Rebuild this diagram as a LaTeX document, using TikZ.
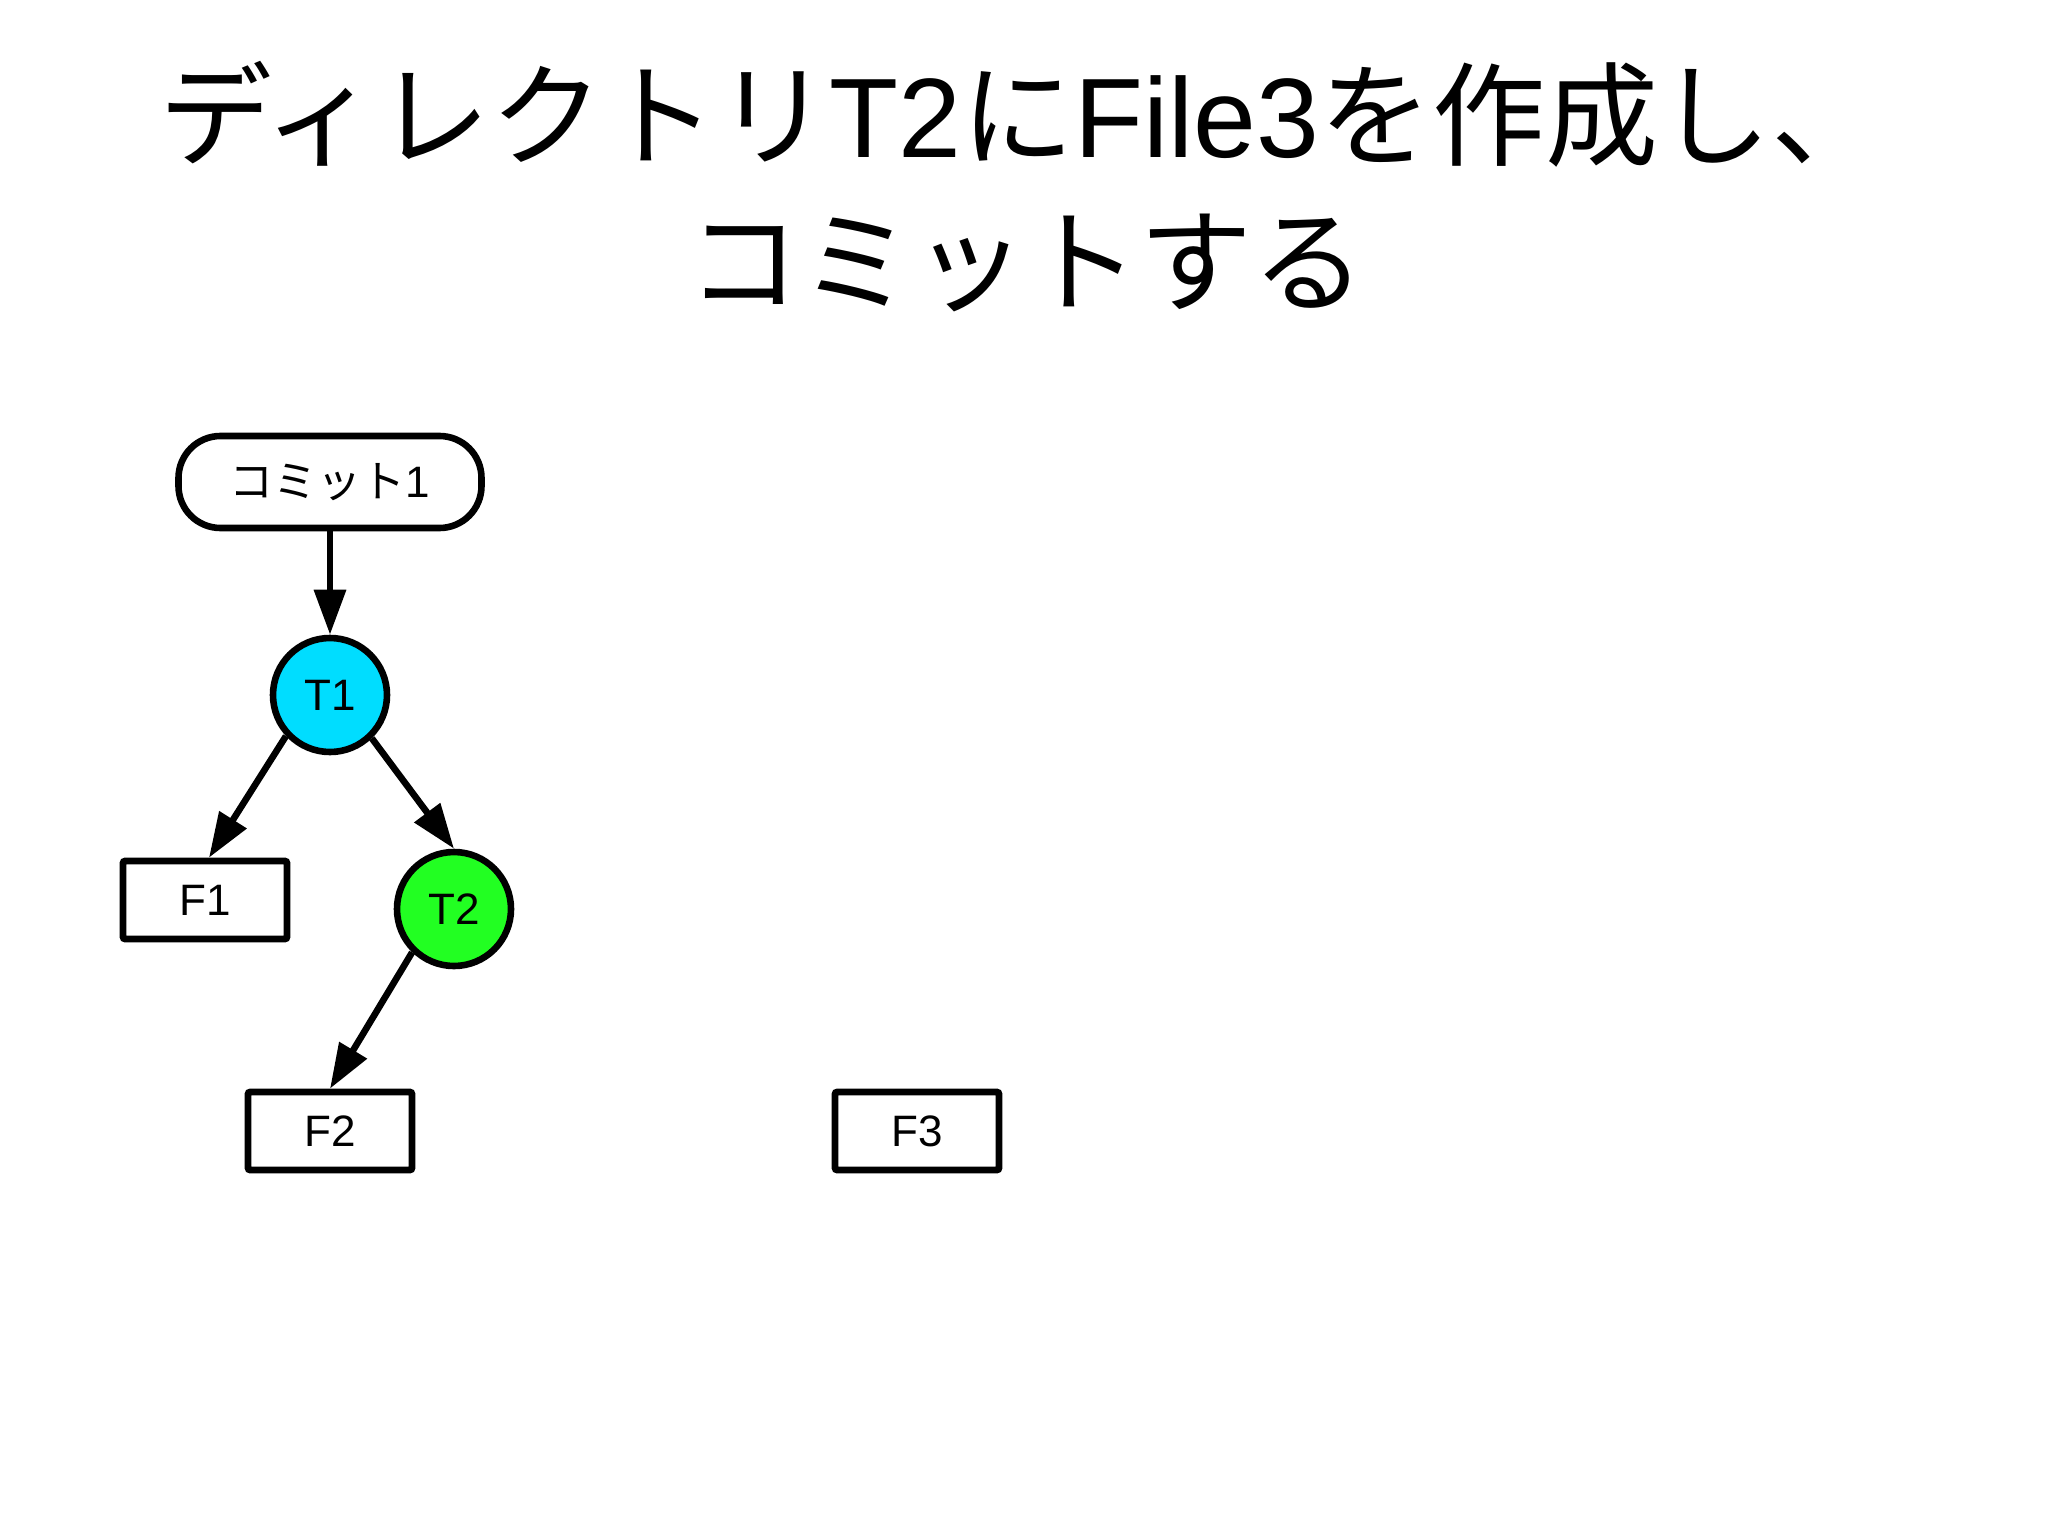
\documentclass[tikz,border=0pt]{standalone}
\usepackage{fontspec}
\setmainfont{Liberation Sans}
\newfontfamily\jp{Noto Sans CJK JP}
\usetikzlibrary{arrows.meta}
\definecolor{tcyan}{HTML}{00DDFF}
\definecolor{tgreen}{HTML}{22FF22}
\tikzset{
  lbl/.style={font=\fontsize{22}{26}\selectfont, text=black},
  commitbox/.style={lbl, draw, line width=3.3pt, rounded corners=21pt, minimum width=151.5pt, minimum height=46pt, inner sep=0pt, fill=white},
  treenode/.style={lbl, draw, line width=3.3pt, circle, minimum size=57pt, inner sep=0pt},
  filebox/.style={lbl, draw, line width=3.3pt, rectangle, rounded corners=1pt, minimum width=82pt, minimum height=39pt, inner sep=0pt},
  conn/.style={line width=3.3pt, -{Triangle[length=22.5pt, width=15.5pt]}},
  titlefont/.style={font=\fontsize{56.5}{62}\selectfont, anchor=base, inner sep=0pt}
}
\begin{document}
\begin{tikzpicture}[x=0.5pt, y=-0.5pt]
\useasboundingbox (0,0) rectangle (2048,1535);
\node[titlefont] (title1) at (1022,158) {{\jp ディレクトリ}T2{\jp に}File3{\jp を作成し、}};
\node[titlefont] (title2) at (1026,304) {{\jp コミットする}};
\node[commitbox] (c1) at (330,482) {{\jp コミット}1};
\node[treenode, fill=tcyan] (T1) at (330,695) {T1};
\node[treenode, fill=tgreen] (T2) at (454,909) {T2};
\node[filebox] (F1) at (205,900) {F1};
\node[filebox] (F2) at (330,1131) {F2};
\node[filebox] (F3) at (917,1131) {F3};
\draw[conn] (c1.south) -- (T1.north);
\draw[conn] (T1.223) -- ([xshift=2pt]F1.north);
\draw[conn] (T1.314) -- (T2.north);
\draw[conn] (T2.226) -- (F2.north);
\end{tikzpicture}
\end{document}
